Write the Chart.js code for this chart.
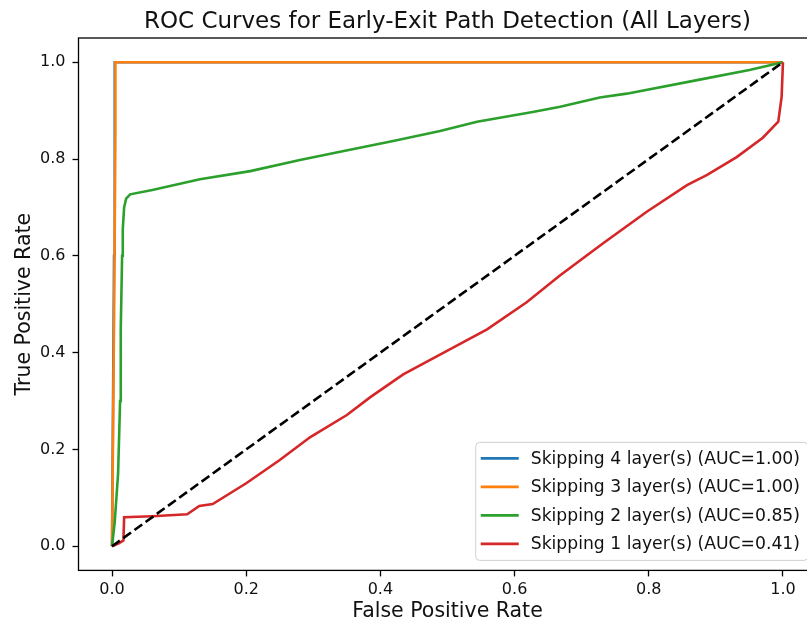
<!DOCTYPE html>
<html>
<head>
<meta charset="utf-8">
<script src="https://cdn.jsdelivr.net/npm/chart.js@4/dist/chart.umd.min.js"></script>
<style>
  html, body { margin: 0; padding: 0; background: #fff; overflow: hidden; }
  #wrap { width: 807px; height: 625px; overflow: hidden; }
  canvas { display: block; }
</style>
</head>
<body>
<div id="wrap"><canvas id="roc" width="895" height="625"></canvas></div>
<script>
// values
const tickValues = [0, 0.2, 0.4, 0.6, 0.8, 1.0]

const seriesLabels = [
  'Skipping 4 layer(s) (AUC=1.00)',
  'Skipping 3 layer(s) (AUC=1.00)',
  'Skipping 2 layer(s) (AUC=0.85)',
  'Skipping 1 layer(s) (AUC=0.41)'
]
const seriesColors = ['#1f77b4', '#ff7f0e', '#2ca02c', '#d62728']

const fprSkip4 = [0, 0.003, 0.004, 1.0]
const tprSkip4 = [0, 0.6, 1.0, 1.0]

const fprSkip3 = [0, 0.0035, 0.005, 0.005, 1.0]
const tprSkip3 = [0, 0.55, 0.85, 1.0, 1.0]

const fprSkip2 = [0, 0.004, 0.009, 0.012, 0.013, 0.015, 0.016, 0.018, 0.021, 0.027, 0.06, 0.131, 0.206, 0.28, 0.34, 0.419, 0.489, 0.544, 0.627, 0.668, 0.727, 0.767, 0.876, 0.95, 1.0]
const tprSkip2 = [0, 0.05, 0.15, 0.3, 0.45, 0.6, 0.655, 0.7, 0.718, 0.727, 0.736, 0.758, 0.775, 0.798, 0.815, 0.837, 0.858, 0.877, 0.897, 0.908, 0.927, 0.935, 0.964, 0.984, 1.0]

const fprSkip1 = [0, 0.01, 0.017, 0.018, 0.06, 0.112, 0.13, 0.15, 0.2, 0.25, 0.295, 0.35, 0.385, 0.434, 0.493, 0.559, 0.618, 0.668, 0.732, 0.797, 0.857, 0.887, 0.931, 0.97, 0.993, 0.998, 1.0]
const tprSkip1 = [0, 0.006, 0.012, 0.06, 0.062, 0.066, 0.083, 0.087, 0.13, 0.178, 0.225, 0.271, 0.308, 0.355, 0.399, 0.448, 0.504, 0.56, 0.626, 0.691, 0.746, 0.767, 0.804, 0.844, 0.877, 0.928, 1.0]

const chanceX = [0, 1]
const chanceY = [0, 1]

function toPoints (xs, ys) {
  return xs.map((x, i) => ({ x: x, y: ys[i] }))
}

const FONT = "'DejaVu Sans', 'Liberation Sans', sans-serif"
Chart.defaults.font.family = FONT
Chart.defaults.color = '#111'

function rocLine (idx, xs, ys) {
  return {
    label: seriesLabels[idx],
    data: toPoints(xs, ys),
    borderColor: seriesColors[idx],
    backgroundColor: seriesColors[idx],
    borderWidth: 2.6,
    showLine: true,
    pointRadius: 0,
    tension: 0,
    order: 4 - idx + 1
  }
}

// frame around the axes, like matplotlib spines
const framePlugin = {
  id: 'frame',
  afterDatasetsDraw (chart) {
    const { ctx, chartArea: a } = chart
    ctx.save()
    ctx.strokeStyle = '#000'
    ctx.lineWidth = 1.3
    ctx.strokeRect(a.left, a.top, a.right - a.left, a.bottom - a.top)
    ctx.restore()
  }
}

// legend in the lower right corner inside the plot
const innerLegend = {
  id: 'innerLegend',
  afterDraw (chart) {
    const { ctx, chartArea: a } = chart
    const items = chart.data.datasets.filter(d => d.label)
    ctx.save()
    ctx.font = '17.2px ' + FONT
    let textW = 0
    items.forEach(d => { textW = Math.max(textW, ctx.measureText(d.label).width) })
    const rowH = 28.5
    const right = a.right - 8.5
    const bottom = a.bottom - 10
    const w = textW + 55 + 8
    const h = rowH * items.length + 4
    const left = right - w
    const top = bottom - h
    ctx.beginPath()
    ctx.roundRect(left, top, w, h, 4)
    ctx.fillStyle = 'rgba(255,255,255,0.8)'
    ctx.fill()
    ctx.strokeStyle = '#d0d0d0'
    ctx.lineWidth = 1
    ctx.stroke()
    items.forEach((d, i) => {
      const y = top + 16 + i * rowH
      ctx.beginPath()
      ctx.moveTo(left + 5, y)
      ctx.lineTo(left + 43, y)
      ctx.strokeStyle = d.borderColor
      ctx.lineWidth = 2.6
      ctx.stroke()
      ctx.fillStyle = '#111'
      ctx.textBaseline = 'middle'
      ctx.textAlign = 'left'
      ctx.fillText(d.label, left + 55, y + 1)
    })
    ctx.restore()
  }
}

const setTicks = scale => { scale.ticks = tickValues.map(v => ({ value: v })) }

new Chart(document.getElementById('roc'), {
  type: 'scatter',
  data: {
    datasets: [
      rocLine(0, fprSkip4, tprSkip4),
      rocLine(1, fprSkip3, tprSkip3),
      rocLine(2, fprSkip2, tprSkip2),
      rocLine(3, fprSkip1, tprSkip1),
      {
        label: '',
        data: toPoints(chanceX, chanceY),
        borderColor: '#000',
        borderWidth: 2.6,
        borderDash: [9.6, 4.2],
        showLine: true,
        pointRadius: 0,
        order: 0
      }
    ]
  },
  options: {
    responsive: false,
    animation: false,
    layout: { padding: 0 },
    plugins: {
      legend: { display: false },
      tooltip: { enabled: false },
      title: {
        display: true,
        text: 'ROC Curves for Early-Exit Path Detection (All Layers)',
        font: { size: 23, weight: 'normal' },
        color: '#111',
        padding: { top: 8.2, bottom: 2.2 }
      }
    },
    scales: {
      x: {
        type: 'linear',
        min: -0.05,
        max: 1.05,
        afterBuildTicks: setTicks,
        afterFit: scale => { scale.height = 54.6 },
        border: { display: false },
        grid: { drawOnChartArea: false, drawTicks: true, tickLength: 6, color: '#000', tickWidth: 1.3 },
        ticks: { padding: 4, font: { size: 16 }, color: '#111', callback: v => v.toFixed(1), maxRotation: 0 },
        title: { display: true, text: 'False Positive Rate', font: { size: 20.5 }, color: '#111', padding: { top: 0, bottom: 1 } }
      },
      y: {
        type: 'linear',
        min: -0.05,
        max: 1.05,
        afterBuildTicks: setTicks,
        afterFit: scale => { scale.width = 78.5 },
        border: { display: false },
        grid: { drawOnChartArea: false, drawTicks: true, tickLength: 6, color: '#000', tickWidth: 1.3 },
        ticks: { padding: 7, font: { size: 16 }, color: '#111', callback: v => v.toFixed(1) },
        title: { display: true, text: 'True Positive Rate', font: { size: 20.5 }, color: '#111', padding: { top: 12, bottom: 0 } }
      },
      // empty right-hand strip so the title stays centred over the plot
      yPad: {
        type: 'linear',
        position: 'right',
        afterFit: scale => { scale.width = 78.5 },
        border: { display: false },
        grid: { display: false },
        ticks: { display: false }
      }
    }
  },
  plugins: [framePlugin, innerLegend]
})
</script>
</body>
</html>
